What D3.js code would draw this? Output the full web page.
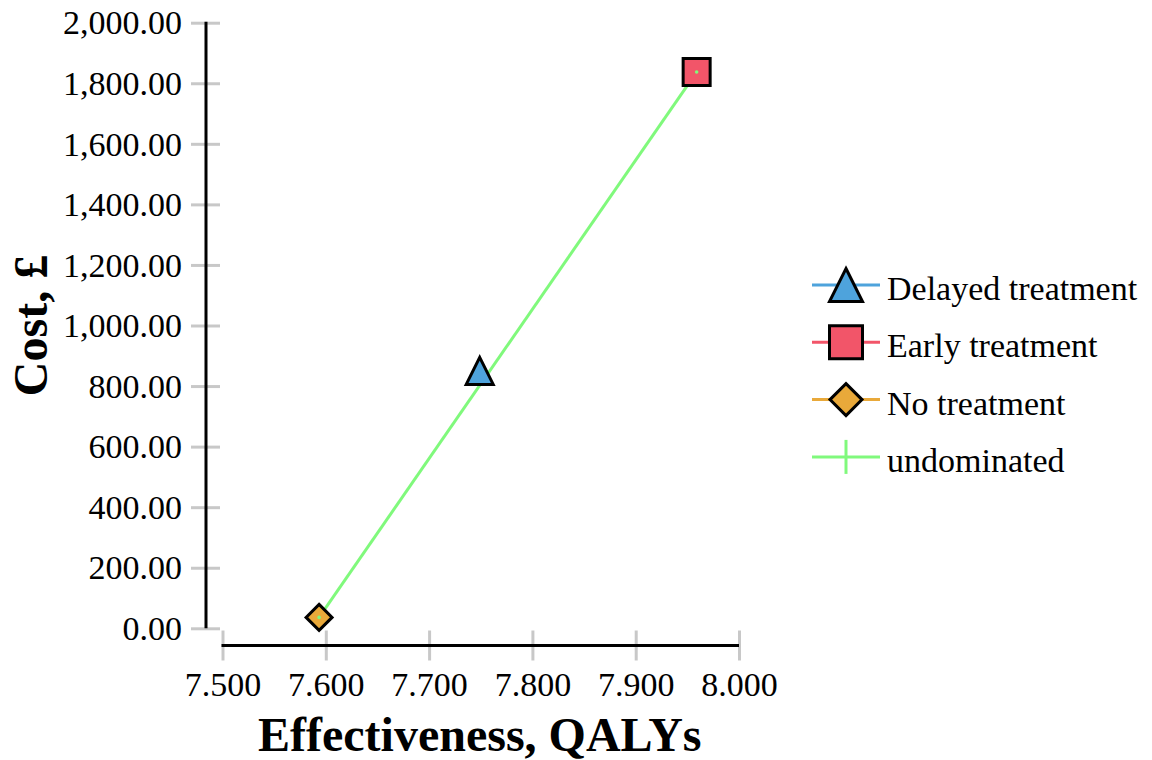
<!DOCTYPE html>
<html><head><meta charset="utf-8">
<script src="https://cdn.jsdelivr.net/npm/d3@7"></script>
<style>body{margin:0;background:#fff}svg{display:block}</style>
</head><body>
<svg id="c" width="1152" height="760"></svg>
<script>
const strategies = ["Delayed treatment", "Early treatment", "No treatment"];
const effectiveness = [7.749, 7.959, 7.5935];
const costs = [850, 1837, 36];
const markerShapes = ["triangle", "square", "diamond"];
const colors = ["#4ea3dc", "#f25569", "#e9a93a"];
const undominated = ["No treatment", "Early treatment"];
const xTicks = [7.5, 7.6, 7.7, 7.8, 7.9, 8.0];
const yTicks = [0, 200, 400, 600, 800, 1000, 1200, 1400, 1600, 1800, 2000];
const frontierColor = "#80f97c";

const svg = d3.select("#c");
const font = "'Liberation Serif','Times New Roman',serif";
const x = d3.scaleLinear().domain([7.5, 8.0]).range([222.5, 739]);
const y = d3.scaleLinear().domain([0, 2000]).range([628.3, 22.7]);

function shapePath(kind, s) {
  const h = s / 2;
  if (kind === "square") return `M${-h},${-h}H${h}V${h}H${-h}Z`;
  if (kind === "diamond") return `M0,${-h}L${h},0L0,${h}L${-h},0Z`;
  if (kind === "triangle") return `M0,${-h}L${h},${h}L${-h},${h}Z`;
  return "";
}

// Y axis
const yAxis = svg.append("g").attr("transform", "translate(206,0)")
  .call(d3.axisLeft(y).tickValues(yTicks).tickFormat(d3.format(",.2f")).tickSize(0).tickPadding(24));
yAxis.select(".domain").remove();
yAxis.selectAll(".tick").append("line").attr("x1", -15).attr("x2", 14)
  .attr("stroke", "#c8c8c8").attr("stroke-width", 3);
yAxis.append("line").attr("x1", 0).attr("x2", 0).attr("y1", y(2000) - 1).attr("y2", y(0))
  .attr("stroke", "#000").attr("stroke-width", 3);
yAxis.selectAll("text").attr("font-family", font).attr("font-size", 34).attr("fill", "#000").attr("dy", "0.33em");

// X axis
const xAxis = svg.append("g").attr("transform", "translate(0,645.5)")
  .call(d3.axisBottom(x).tickValues(xTicks).tickFormat(d3.format(".3f")).tickSize(0).tickPadding(26));
xAxis.select(".domain").remove();
xAxis.selectAll(".tick").append("line").attr("y1", -15).attr("y2", 15)
  .attr("stroke", "#c8c8c8").attr("stroke-width", 3);
xAxis.append("line").attr("x1", x(7.5) - 1).attr("x2", x(8.0)).attr("y1", 0).attr("y2", 0)
  .attr("stroke", "#000").attr("stroke-width", 3);
xAxis.selectAll("text").attr("font-family", font).attr("font-size", 34).attr("fill", "#000");

// Axis titles
svg.append("text").attr("x", x(7.75) - 1).attr("y", 751).attr("text-anchor", "middle")
  .attr("font-family", font).attr("font-weight", "bold").attr("font-size", 48).text("Effectiveness, QALYs");
svg.append("text").attr("transform", `translate(47,${(y(0) + y(2000)) / 2}) rotate(-90)`)
  .attr("text-anchor", "middle").attr("font-family", font).attr("font-weight", "bold")
  .attr("font-size", 48).text("Cost, £");

// Frontier
const frontierPts = undominated.map(n => {
  const i = strategies.indexOf(n);
  return [effectiveness[i], costs[i]];
}).sort((a, b) => a[0] - b[0]);
svg.append("path").datum(frontierPts)
  .attr("d", d3.line().x(d => x(d[0])).y(d => y(d[1])))
  .attr("fill", "none").attr("stroke", frontierColor).attr("stroke-width", 3);

// Markers
strategies.forEach((n, i) => {
  svg.append("path").attr("transform", `translate(${x(effectiveness[i])},${y(costs[i])})`)
    .attr("d", shapePath(markerShapes[i], markerShapes[i] === "diamond" ? 26 : 27))
    .attr("fill", colors[i]).attr("stroke", "#000").attr("stroke-width", 3).attr("stroke-linejoin", "miter");
});
frontierPts.forEach(d => {
  svg.append("circle").attr("cx", x(d[0])).attr("cy", y(d[1])).attr("r", 1.8).attr("fill", frontierColor);
});

// Legend
const legendItems = strategies.map((n, i) => ({ name: n, color: colors[i], shape: markerShapes[i] }))
  .concat([{ name: "undominated", color: frontierColor, shape: "plus" }]);
const lg = svg.append("g");
legendItems.forEach((d, i) => {
  const cy = 285 + i * 57.3;
  const g = lg.append("g").attr("transform", `translate(0,${cy})`);
  g.append("line").attr("x1", 812).attr("x2", 880).attr("y1", 0).attr("y2", 0)
    .attr("stroke", d.color).attr("stroke-width", 3);
  if (d.shape === "plus") {
    g.append("line").attr("x1", 846).attr("x2", 846).attr("y1", -17).attr("y2", 17)
      .attr("stroke", d.color).attr("stroke-width", 3);
  } else {
    g.append("path").attr("transform", "translate(846,0)")
      .attr("d", shapePath(d.shape, d.shape === "diamond" ? 32 : 33))
      .attr("fill", d.color).attr("stroke", "#000").attr("stroke-width", 3);
  }
  g.append("text").attr("x", 887).attr("y", 0).attr("dy", "0.44em")
    .attr("font-family", font).attr("font-size", 34).attr("fill", "#000").text(d.name);
});
</script>
</body></html>
